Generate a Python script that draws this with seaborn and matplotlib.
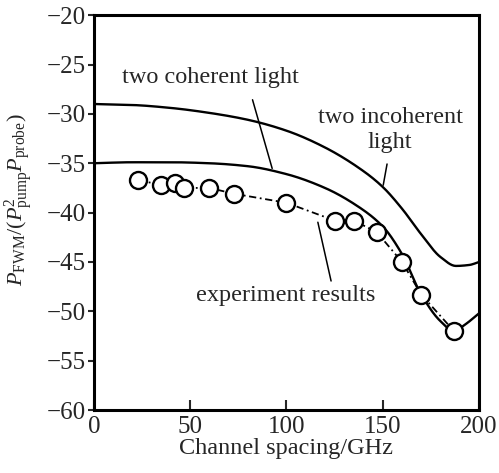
import numpy as np
import pandas as pd
import matplotlib
matplotlib.use("Agg")
import matplotlib.pyplot as plt
import seaborn as sns

# Data
incoh_x = [0, 20, 40, 60, 80, 100, 120, 140, 150, 160, 170, 180, 188, 195, 200]
incoh_y = [-29.0, -29.1, -29.4, -29.9, -30.6, -31.7, -33.4, -35.8, -37.4, -39.6, -42.2, -44.5, -45.4, -45.3, -45.0]

coh_x = [0, 20, 40, 60, 80, 100, 120, 135, 150, 160, 170, 180, 187, 193, 200]
coh_y = [-35.0, -34.9, -34.9, -35.0, -35.3, -36.1, -37.5, -39.1, -41.4, -44.2, -48.3, -51.0, -52.0, -51.3, -50.2]

exp_x = [23, 35, 42, 47, 60, 73, 100, 125, 135, 147, 160, 170, 187]
exp_y = [-36.7, -37.2, -37.0, -37.5, -37.5, -38.1, -39.0, -40.8, -40.8, -42.0, -45.0, -48.3, -52.0]

x_ticks = [0, 50, 100, 150, 200]
y_ticks = [-20, -25, -30, -35, -40, -45, -50, -55, -60]

sns.set_theme(style="ticks")
plt.rcParams['font.family'] = ['Liberation Serif', 'DejaVu Serif']
plt.rcParams['mathtext.fontset'] = 'custom'
plt.rcParams['mathtext.rm'] = 'Liberation Serif'
plt.rcParams['mathtext.it'] = 'Liberation Serif:italic'

fig = plt.figure(figsize=(4.99, 4.73), dpi=100)
ax = fig.add_axes([0.188, 0.133, 0.772, 0.835])

df_inc = pd.DataFrame({"x": incoh_x, "y": incoh_y})
df_coh = pd.DataFrame({"x": coh_x, "y": coh_y})
df_exp = pd.DataFrame({"x": exp_x, "y": exp_y})

def smooth(df):
    # monotone piecewise cubic (PCHIP) through the read points
    x = df.x.values.astype(float); y = df.y.values.astype(float)
    xs = np.linspace(x.min(), x.max(), 400)
    h = np.diff(x); d = np.diff(y) / h
    m = np.zeros_like(y)
    m[0] = d[0]; m[-1] = d[-1]
    for i in range(1, len(y) - 1):
        if d[i-1] * d[i] <= 0:
            m[i] = 0
        else:
            w1 = 2*h[i] + h[i-1]; w2 = h[i] + 2*h[i-1]
            m[i] = (w1 + w2) / (w1/d[i-1] + w2/d[i])
    idx = np.clip(np.searchsorted(x, xs) - 1, 0, len(x) - 2)
    t = (xs - x[idx]) / h[idx]
    h00 = 2*t**3 - 3*t**2 + 1; h10 = t**3 - 2*t**2 + t
    h01 = -2*t**3 + 3*t**2; h11 = t**3 - t**2
    ys = h00*y[idx] + h10*h[idx]*m[idx] + h01*y[idx+1] + h11*h[idx]*m[idx+1]
    return pd.DataFrame({"x": xs, "y": ys})

sns.lineplot(data=smooth(df_inc), x="x", y="y", ax=ax, color="black", lw=1.7, estimator=None, sort=False)
sns.lineplot(data=smooth(df_coh), x="x", y="y", ax=ax, color="black", lw=1.7, estimator=None, sort=False)
ax.plot(df_exp.x, df_exp.y, color="black", lw=1.3, ls=(0, (4, 2, 1, 2)))
sns.scatterplot(data=df_exp, x="x", y="y", ax=ax, s=150, facecolor="white",
                edgecolor="black", linewidth=1.7, zorder=5)

ax.set_xlim(0, 200)
ax.set_ylim(-60, -20)
ax.set_xticks(x_ticks)
ax.set_yticks(y_ticks)
ax.set_xticklabels([str(v) for v in x_ticks])
ax.set_yticklabels(["\u2212" + str(abs(v)) for v in y_ticks])
ax.tick_params(axis="both", direction="in", length=7, width=1.5, labelsize=18, pad=4)
ax.tick_params(axis="y", direction="out", length=4, pad=2)
for s in ax.spines.values():
    s.set_linewidth(2.2)
    s.set_color("black")

ax.set_xlabel("Channel spacing/GHz", fontsize=17.5, labelpad=0)
ax.set_ylabel(r"$P_{\mathrm{FWM}}/(P^{2}_{\mathrm{pump}}P_{\mathrm{probe}})$", fontsize=16, labelpad=2)
ax.yaxis.set_label_coords(-0.152, 0.532)

ax.text(0.304, 0.843, "two coherent light", transform=ax.transAxes, fontsize=17.5, ha="center", va="center")
ax.annotate("", xy=(93, -35.8), xytext=(82, -28.3),
            arrowprops=dict(arrowstyle="-", color="black", lw=1.1))
ax.text(0.769, 0.709, "two incoherent\nlight", transform=ax.transAxes, fontsize=17.5,
        ha="center", va="center", linespacing=1.2)
ax.annotate("", xy=(150, -37.5), xytext=(152.5, -34.8),
            arrowprops=dict(arrowstyle="-", color="black", lw=1.1))
ax.text(0.499, 0.291, "experiment results", transform=ax.transAxes, fontsize=17.5,
        ha="center", va="center")
ax.annotate("", xy=(123.5, -47.2), xytext=(116, -40.7),
            arrowprops=dict(arrowstyle="-", color="black", lw=1.1))

fig.savefig("out.png", dpi=100)
